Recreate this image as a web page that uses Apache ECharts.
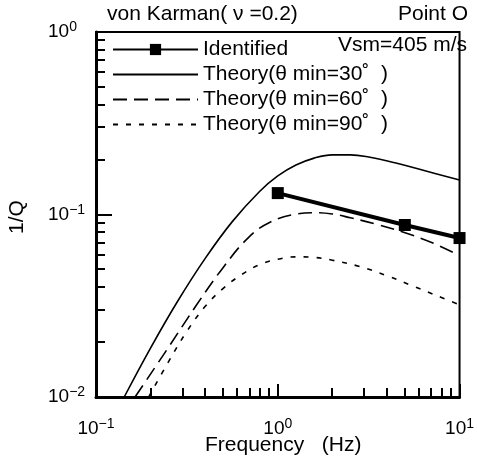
<!DOCTYPE html>
<html>
<head>
<meta charset="utf-8">
<script src="https://cdn.jsdelivr.net/npm/echarts@6/dist/echarts.min.js"></script>
<style>
html,body{margin:0;padding:0;background:#fff;}
#c{width:477px;height:467px;}
</style>
</head>
<body>
<div id="c"></div>
<script>
// ---- data ----
const identifiedF = [1, 5, 10];
const identifiedQ = [0.131, 0.0876, 0.0743];

const theory30F = [0.143, 0.1995, 0.2818, 0.398, 0.562, 0.794, 1, 1.259, 1.585, 1.995, 2.512, 3.162, 4.467, 6.31, 10];
const theory30Q = [0.01, 0.01854, 0.03357, 0.0573, 0.0914, 0.1337, 0.1626, 0.1866, 0.2037, 0.2123, 0.2123, 0.2065, 0.1914, 0.1746, 0.1545];

const theory60F = [0.164, 0.2512, 0.3548, 0.5012, 0.6918, 0.912, 1.259, 1.585, 1.995, 2.512, 3.548, 5.012, 7.079, 10];
const theory60Q = [0.01, 0.0188, 0.0316, 0.0513, 0.075, 0.091, 0.1005, 0.1023, 0.1007, 0.0959, 0.0881, 0.0794, 0.07, 0.0596];

const theory90F = [0.195, 0.2512, 0.3162, 0.398, 0.5012, 0.631, 0.794, 1, 1.259, 1.585, 1.995, 2.818, 3.981, 5.623, 7.943, 10];
const theory90Q = [0.01, 0.01567, 0.0229, 0.0313, 0.0394, 0.0468, 0.0531, 0.0569, 0.0586, 0.0582, 0.0562, 0.0519, 0.0462, 0.0403, 0.0351, 0.032];

const xRange = [0.1, 10];
const yRange = [0.01, 1];

const seriesNames = ['Identified', 'Theory(\u03b8 min=30\u02da  )', 'Theory(\u03b8 min=60\u02da  )', 'Theory(\u03b8 min=90\u02da  )'];

function pairs(fs, qs) { return fs.map((f, i) => [f, qs[i]]); }

// minor tick values of a log axis (2..9 in each decade)
function logMinor(lo, hi) {
  const out = [];
  for (let d = lo; d < hi - 1e-12; d *= 10) {
    for (let k = 2; k <= 9; k++) out.push(+(d * k).toPrecision(6));
  }
  return out;
}
const xMinor = logMinor(xRange[0], xRange[1]);
const yMinor = logMinor(yRange[0], yRange[1]);
// rows: [x, y, which-axis]  (0 = bottom axis tick, 1 = left axis tick)
const minorRows = xMinor.map(v => [v, yRange[0], 0]).concat(yMinor.map(v => [xRange[0], v, 1]));

const FONT = '"Liberation Sans", Arial, Helvetica, sans-serif';

function powLabel(v) {
  const e = Math.round(Math.log10(v));
  const es = e < 0 ? '\u2212' + (-e) : String(e);
  return '{b|10}{s|' + es + '}';
}
const richLab = {
  b: { fontSize: 19, fontFamily: FONT, color: '#000' },
  s: { fontSize: 14, fontFamily: FONT, color: '#000', padding: [0, 0, 9, 0] }
};

const hideSym = { color: 'rgba(0,0,0,0)', borderColor: 'rgba(0,0,0,0)', borderWidth: 0, opacity: 0 };

const chart = echarts.init(document.getElementById('c'), null, { renderer: 'canvas' });
chart.setOption({
  animation: false,
  backgroundColor: '#fff',
  grid: { left: 96, right: 8, top: 32, bottom: 70, show: true, borderColor: '#000', borderWidth: 2, backgroundColor: 'transparent' },
  legend: {
    left: 107, top: 34, orient: 'vertical',
    itemWidth: 85, itemHeight: 14, itemGap: 4,
    textStyle: { fontSize: 21, fontFamily: FONT, color: '#000' },
    data: [
      { name: seriesNames[0] },
      { name: seriesNames[1], itemStyle: hideSym },
      { name: seriesNames[2], itemStyle: hideSym },
      { name: seriesNames[3], itemStyle: hideSym }
    ]
  },
  xAxis: {
    type: 'log', logBase: 10, min: xRange[0], max: xRange[1],
    axisLine: { show: true, lineStyle: { color: '#000', width: 3 } },
    axisTick: { show: true, inside: true, length: 13, lineStyle: { color: '#000', width: 2 } },
    minorTick: { show: false },
    splitLine: { show: false },
    axisLabel: { margin: 20, formatter: powLabel, rich: richLab, showMaxLabel: true, showMinLabel: true }
  },
  yAxis: {
    type: 'log', logBase: 10, min: yRange[0], max: yRange[1],
    axisLine: { show: true, lineStyle: { color: '#000', width: 3 } },
    axisTick: { show: true, inside: true, length: 16, lineStyle: { color: '#000', width: 2 } },
    minorTick: { show: false },
    splitLine: { show: false },
    axisLabel: { margin: 48, align: 'left', formatter: powLabel, rich: richLab }
  },
  series: [
    {
      name: seriesNames[0], type: 'line', data: pairs(identifiedF, identifiedQ),
      symbol: 'rect', symbolSize: 12, showSymbol: true, z: 5,
      lineStyle: { color: '#000', width: 4 }, itemStyle: { color: '#000' }
    },
    {
      name: seriesNames[1], type: 'line', data: pairs(theory30F, theory30Q), smooth: 0.4,
      symbol: 'none', lineStyle: { color: '#000', width: 1.6, type: 'solid' }, itemStyle: { color: '#000' }
    },
    {
      name: seriesNames[2], type: 'line', data: pairs(theory60F, theory60Q), smooth: 0.4,
      symbol: 'none', lineStyle: { color: '#000', width: 1.6, type: [14, 7] }, itemStyle: { color: '#000' }
    },
    {
      name: seriesNames[3], type: 'line', data: pairs(theory90F, theory90Q), smooth: 0.4,
      symbol: 'none', lineStyle: { color: '#000', width: 1.6, type: [5, 8] }, itemStyle: { color: '#000' }
    },
    {
      name: 'minorTicks', type: 'custom', silent: true, clip: false, z: 10,
      encode: { x: 0, y: 1 },
      data: minorRows,
      renderItem: function (params, api) {
        const p = api.coord([api.value(0), api.value(1)]);
        if (api.value(2) === 0) {
          const x = Math.round(p[0]);
          return { type: 'rect', shape: { x: x - 1, y: p[1] - 9, width: 2, height: 9 }, style: { fill: '#000' } };
        }
        const y = Math.round(p[1]);
        return { type: 'rect', shape: { x: p[0], y: y - 1, width: 9, height: 2 }, style: { fill: '#000' } };
      }
    }
  ],
  graphic: [
    { type: 'text', left: 107, top: 4, style: { text: 'von Karman( \u03bd =0.2)', font: '21px ' + FONT, fill: '#000' } },
    { type: 'text', right: 9, top: 4, style: { text: 'Point O', font: '21px ' + FONT, fill: '#000' } },
    { type: 'text', right: 10, top: 35, style: { text: 'Vsm=405 m/s', font: '21px ' + FONT, fill: '#000' } },
    { type: 'text', left: 205, top: 435, style: { text: 'Frequency   (Hz)', font: '21px ' + FONT, fill: '#000' } },
    { type: 'text', x: 17, y: 217, rotation: Math.PI / 2, style: { text: '1/Q', font: '21px ' + FONT, fill: '#000', align: 'center', verticalAlign: 'middle' } }
  ]
});
</script>
</body>
</html>
